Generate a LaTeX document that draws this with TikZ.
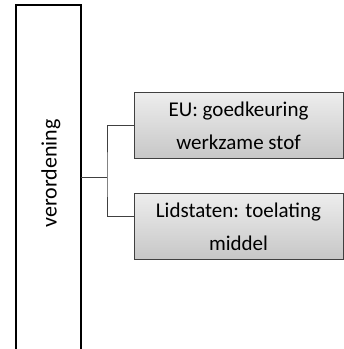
\documentclass[tikz,border=0pt]{standalone}
\usepackage{fontspec}
\setmainfont{Carlito}
\begin{document}
\begin{tikzpicture}[x=1pt,y=1pt,
  bigbox/.style={draw=black,line width=2pt,rectangle,minimum width=65pt,minimum height=360pt,inner sep=0pt,outer sep=0pt},
  subbox/.style={draw=black!75,line width=1pt,rectangle,top color=black!7,bottom color=black!22,minimum width=209pt,minimum height=65.5pt,inner sep=0pt,outer sep=0pt,align=center,font=\fontsize{21}{33}\selectfont},
  conn/.style={draw=black!75,line width=1pt}]
\useasboundingbox (0,0) rectangle (344,349);
\clip (0,0) rectangle (344,349);
\node[bigbox] (verord) at (48.5,349-185) {};
\node[rotate=90,font=\fontsize{22}{26}\selectfont,inner sep=0pt] (vlabel) at (51,349-173.5) {verordening};
\node[subbox] (box1) at (238.5,349-125.3) {EU: goedkeuring\\werkzame stof};
\node[subbox] (box2) at (238.5,349-226.3) {Lidstaten: toelating\\middel};
\coordinate (j) at (107,349-178);
\coordinate (c2) at (0,349-217);
\draw[conn] (verord.east |- j) -- (j);
\draw[conn] (box1.west) -| (j) |- (box2.west |- c2);
\end{tikzpicture}
\end{document}
